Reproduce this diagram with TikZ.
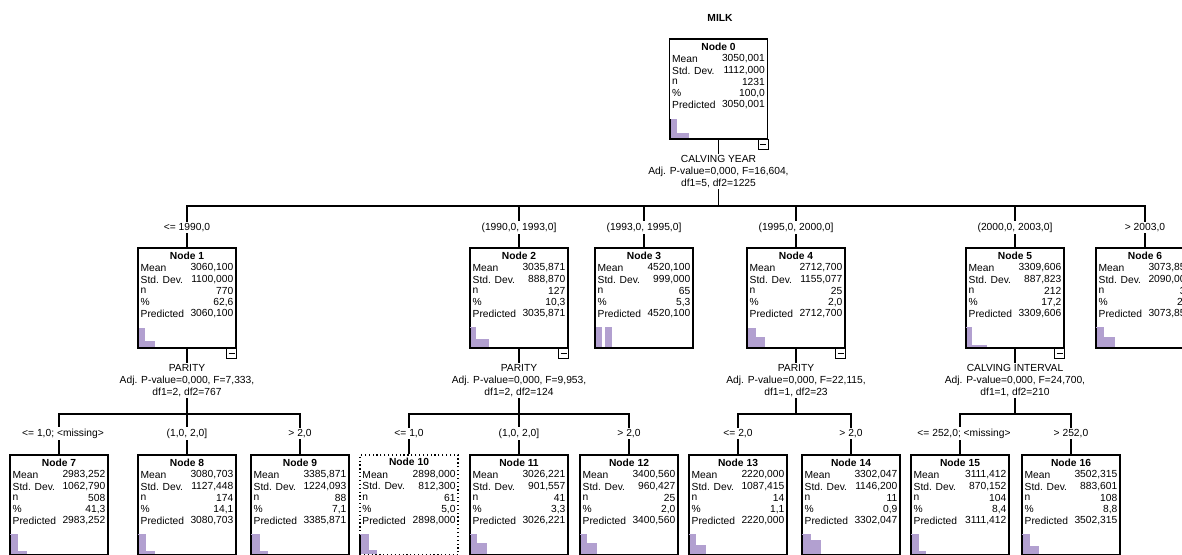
\documentclass[tikz,border=0pt]{standalone}
\usepackage{fontspec}
\setmainfont{Liberation Sans}
\usetikzlibrary{calc}
\definecolor{histc}{RGB}{178,160,208}
\newcommand\tfont{\fontsize{7.7}{9}\selectfont}
\tikzset{
  nodebox/.style={draw, line width=0.9pt, minimum width=73.5pt, minimum height=75pt, inner sep=0pt, fill=white},
  ntitle/.style={font=\tfont\bfseries, inner sep=0pt},
  nlab/.style={font=\tfont, inner sep=0pt, anchor=west},
  nval/.style={font=\tfont, inner sep=0pt, anchor=east},
  conn/.style={line width=1.1pt},
  brlab/.style={font=\tfont, fill=white, inner sep=1pt},
  splittxt/.style={font=\tfont, fill=white, inner sep=1pt, align=center},
  togglebox/.style={line width=0.8pt},
}
% [box options]{name}{cx}{top}{title}{mean}{sd}{n}{pct}
\newcommand\spnode[9][]{%
  \node[nodebox,#1] (#2) at ({#3},{#4+50}) {};
  \node[ntitle] (#2t) at ($(#2.north)+(0,8)$) {#5};
  \node[nlab] (#2la) at ($(#2.north west)+(3,20.5)$) {Mean};
  \node[nval] (#2va) at ($(#2.north east)+(-3,20.5)$) {#6};
  \node[nlab] (#2lb) at ($(#2.north west)+(3,32)$) {Std. Dev.};
  \node[nval] (#2vb) at ($(#2.north east)+(-3,32)$) {#7};
  \node[nlab] (#2lc) at ($(#2.north west)+(3,43.5)$) {n};
  \node[nval] (#2vc) at ($(#2.north east)+(-3,43.5)$) {#8};
  \node[nlab] (#2ld) at ($(#2.north west)+(3,55)$) {\%};
  \node[nval] (#2vd) at ($(#2.north east)+(-3,55)$) {#9};
  \node[nlab] (#2le) at ($(#2.north west)+(3,66.5)$) {Predicted};
  \node[nval] (#2ve) at ($(#2.north east)+(-3,66.5)$) {#6};
}
\newcommand\sphist[2]{%
  \foreach \xa/\xb/\hh in {#2} {
    \fill[histc] ($(#1.south west)+(\xa,-1.5)$) rectangle ($(#1.south west)+(\xb,{-1.5-\hh})$);
  }
  \draw[line width=1.4pt] ($(#1.south west)+(0.8,0)$) -- ++(0,-21);
}
\newcommand\sptoggle[1]{%
  \draw[togglebox] (#1.south east) rectangle ++(-10,10);
  \draw[togglebox] ($(#1.south east)+(-8,5)$) -- ++(6,0);
}
\begin{document}
\begin{tikzpicture}[x=0.75pt,y=-0.75pt]
\useasboundingbox (0,0) rectangle (1182,554);
\clip (0,0) rectangle (1182,554);

\node[font=\tfont\bfseries, inner sep=0pt] (dep) at (720,18) {MILK};

% level 0
\spnode{n0}{718.5}{39}{Node 0}{3050,001}{1112,000}{1231}{100,0}
% level 1
\spnode{n1}{187}{248}{Node 1}{3060,100}{1100,000}{770}{62,6}
\spnode{n2}{519}{248}{Node 2}{3035,871}{888,870}{127}{10,3}
\spnode{n3}{644}{248}{Node 3}{4520,100}{999,000}{65}{5,3}
\spnode{n4}{796}{248}{Node 4}{2712,700}{1155,077}{25}{2,0}
\spnode{n5}{1015}{248}{Node 5}{3309,606}{887,823}{212}{17,2}
\spnode{n6}{1145}{248}{Node 6}{3073,852}{2090,000}{32}{2,6}
% level 2
\spnode{n7}{59}{455}{Node 7}{2983,252}{1062,790}{508}{41,3}
\spnode{n8}{187}{455}{Node 8}{3080,703}{1127,448}{174}{14,1}
\spnode{n9}{300}{455}{Node 9}{3385,871}{1224,093}{88}{7,1}
\spnode[dotted, line width=1.2pt]{n10}{409}{455}{Node 10}{2898,000}{812,300}{61}{5,0}
\spnode{n11}{519}{455}{Node 11}{3026,221}{901,557}{41}{3,3}
\spnode{n12}{629}{455}{Node 12}{3400,560}{960,427}{25}{2,0}
\spnode{n13}{738}{455}{Node 13}{2220,000}{1087,415}{14}{1,1}
\spnode{n14}{851}{455}{Node 14}{3302,047}{1146,200}{11}{0,9}
\spnode{n15}{960}{455}{Node 15}{3111,412}{870,152}{104}{8,4}
\spnode{n16}{1071}{455}{Node 16}{3502,315}{883,601}{108}{8,8}

% histograms
\sphist{n0}{1/8/19, 8/20/5}
\sphist{n1}{1/8/19, 8/18/6}
\sphist{n2}{1/7/20, 7/20/8}
\sphist{n3}{2/8/20, 11/18/20}
\sphist{n4}{1/10/19, 10/19/10}
\sphist{n5}{1/7/20, 7/22/2}
\sphist{n6}{1/9/20, 9/20/10}
\sphist{n7}{1/9/20, 9/18/3}
\sphist{n8}{1/9/20, 9/18/3}
\sphist{n9}{1/10/20, 10/18/3}
\sphist{n10}{1/10/20, 10/18/4}
\sphist{n11}{1/8/20, 8/18/11}
\sphist{n12}{1/8/20, 8/18/11}
\sphist{n13}{1/8/20, 8/18/9}
\sphist{n14}{1/10/20, 10/20/14}
\sphist{n15}{1/9/20, 9/16/3}
\sphist{n16}{1/9/20, 9/18/8}

% toggles
\sptoggle{n0}
\sptoggle{n1}
\sptoggle{n2}
\sptoggle{n4}
\sptoggle{n5}

% connectors level 1
\coordinate (bar1) at (718.5,206);
\draw[conn] (n0.south) -- (n0.south |- bar1);
\draw[conn] (n1.north) -- (n1.north |- bar1) -- (n6.north |- bar1) -- (n6.north);
\foreach \c in {n2,n3,n4,n5} { \draw[conn] (\c.north) -- (\c.north |- bar1); }

% connectors level 2
\coordinate (bar2) at (187,414);
\draw[conn] (n1.south) -- (n1.south |- bar2);
\draw[conn] (n7.north) -- (n7.north |- bar2) -- (n9.north |- bar2) -- (n9.north);
\draw[conn] (n8.north) -- (n8.north |- bar2);
\draw[conn] (n2.south) -- (n2.south |- bar2);
\draw[conn] (n10.north) -- (n10.north |- bar2) -- (n12.north |- bar2) -- (n12.north);
\draw[conn] (n11.north) -- (n11.north |- bar2);
\draw[conn] (n4.south) -- (n4.south |- bar2);
\draw[conn] (n13.north) -- (n13.north |- bar2) -- (n14.north |- bar2) -- (n14.north);
\draw[conn] (n5.south) -- (n5.south |- bar2);
\draw[conn] (n15.north) -- (n15.north |- bar2) -- (n16.north |- bar2) -- (n16.north);

% split texts
\node[splittxt] (s0) at ($(n0.south)+(0,32)$) {CALVING YEAR\\Adj. P-value=0,000, F=16,604,\\df1=5, df2=1225};
\node[splittxt] (s1) at ($(n1.south)+(0,32)$) {PARITY\\Adj. P-value=0,000, F=7,333,\\df1=2, df2=767};
\node[splittxt] (s2) at ($(n2.south)+(0,32)$) {PARITY\\Adj. P-value=0,000, F=9,953,\\df1=2, df2=124};
\node[splittxt] (s4) at ($(n4.south)+(0,32)$) {PARITY\\Adj. P-value=0,000, F=22,115,\\df1=1, df2=23};
\node[splittxt] (s5) at ($(n5.south)+(0,32)$) {CALVING INTERVAL\\Adj. P-value=0,000, F=24,700,\\df1=1, df2=210};

% branch labels level 1
\node[brlab] (b1) at ($(n1.north)+(0,-20)$) {<= 1990,0};
\node[brlab] (b2) at ($(n2.north)+(0,-20)$) {(1990,0, 1993,0]};
\node[brlab] (b3) at ($(n3.north)+(0,-20)$) {(1993,0, 1995,0]};
\node[brlab] (b4) at ($(n4.north)+(0,-20)$) {(1995,0, 2000,0]};
\node[brlab] (b5) at ($(n5.north)+(0,-20)$) {(2000,0, 2003,0]};
\node[brlab] (b6) at ($(n6.north)+(0,-20)$) {> 2003,0};
% branch labels level 2
\node[brlab] (b7) at ($(n7.north)+(4,-21)$) {<= 1,0; <missing>};
\node[brlab] (b8) at ($(n8.north)+(0,-21)$) {(1,0, 2,0]};
\node[brlab] (b9) at ($(n9.north)+(0,-21)$) {> 2,0};
\node[brlab] (b10) at ($(n10.north)+(0,-21)$) {<= 1,0};
\node[brlab] (b11) at ($(n11.north)+(0,-21)$) {(1,0, 2,0]};
\node[brlab] (b12) at ($(n12.north)+(0,-21)$) {> 2,0};
\node[brlab] (b13) at ($(n13.north)+(0,-21)$) {<= 2,0};
\node[brlab] (b14) at ($(n14.north)+(0,-21)$) {> 2,0};
\node[brlab] (b15) at ($(n15.north)+(4,-21)$) {<= 252,0; <missing>};
\node[brlab] (b16) at ($(n16.north)+(0,-21)$) {> 252,0};
\end{tikzpicture}
\end{document}
